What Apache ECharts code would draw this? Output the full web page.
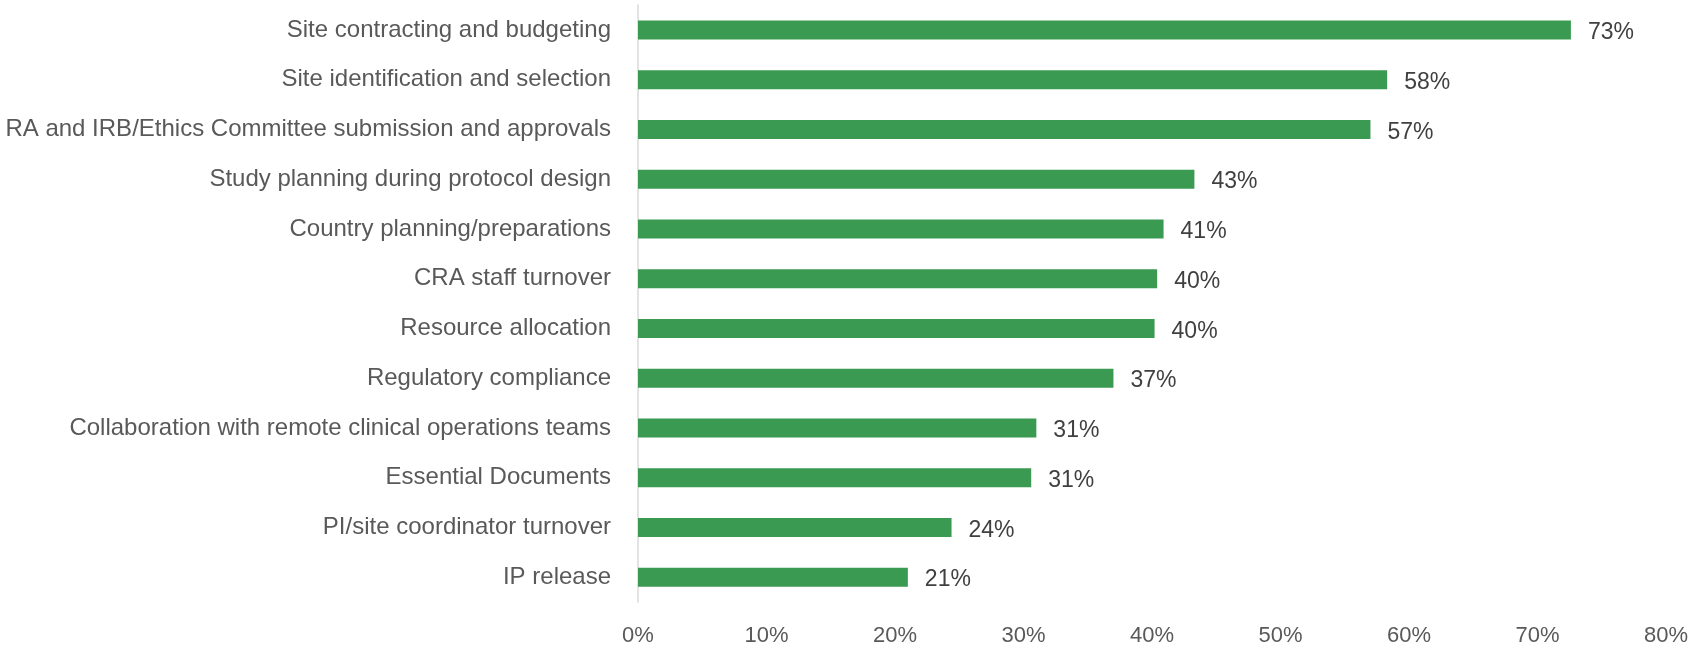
<!DOCTYPE html>
<html>
<head>
<meta charset="utf-8">
<script src="https://cdn.jsdelivr.net/npm/echarts@6/dist/echarts.min.js"></script>
<style>
html,body{margin:0;padding:0;background:#fff;}
#chart{width:1705px;height:649px;}
</style>
</head>
<body>
<div id="chart"></div>
<script>
// categories, top to bottom as drawn
var categories = [
	"Site contracting and budgeting",
	"Site identification and selection",
	"RA and IRB/Ethics Committee submission and approvals",
	"Study planning during protocol design",
	"Country planning/preparations",
	"CRA staff turnover",
	"Resource allocation",
	"Regulatory compliance",
	"Collaboration with remote clinical operations teams",
	"Essential Documents",
	"PI/site coordinator turnover",
	"IP release"
];
// percent
var values = [72.6, 58.3, 57.0, 43.3, 40.9, 40.4, 40.2, 37.0, 31.0, 30.6, 24.4, 21.0];
var ticks = [0, 10, 20, 30, 40, 50, 60, 70, 80];

var font = "Liberation Sans";
var chart = echarts.init(document.getElementById("chart"));
var option = {
	animation: false,
	grid: { left: 638, right: 39, top: 5, bottom: 47, containLabel: false },
	xAxis: {
		type: "value",
		min: ticks[0],
		max: ticks[ticks.length - 1],
		interval: 10,
		splitLine: { show: false },
		axisLine: { show: false },
		axisTick: { show: false },
		axisLabel: {
			formatter: "{value}%",
			color: "#595959",
			fontFamily: font,
			fontSize: 22,
			margin: 23
		}
	},
	yAxis: {
		type: "category",
		inverse: true,
		data: categories,
		axisLine: { show: true, lineStyle: { color: "#d9d9d9", width: 1.5 } },
		axisTick: { show: false },
		axisLabel: {
			color: "#595959",
			fontFamily: font,
			fontSize: 24,
			margin: 27
		}
	},
	series: [{
		type: "bar",
		data: values,
		barWidth: 19,
		itemStyle: { color: "#3a9a52" },
		label: {
			show: true,
			position: "right",
			distance: 17,
			offset: [0, 3],
			color: "#404040",
			fontFamily: font,
			fontSize: 23,
			formatter: function(p){ return Math.round(p.value) + "%"; }
		}
	}]
};
chart.setOption(option);
</script>
</body>
</html>
